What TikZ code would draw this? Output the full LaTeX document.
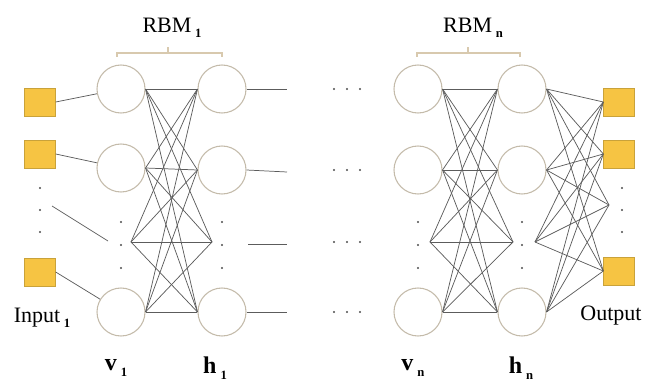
\documentclass[tikz,border=0pt]{standalone}
\usepackage{fontspec}
\setmainfont{Liberation Serif}
\usetikzlibrary{positioning}
\definecolor{RBMGold}{HTML}{F6C443}
\definecolor{RBMGoldEdge}{HTML}{C9A23A}
\definecolor{RBMRing}{HTML}{C4BBAA}
\definecolor{RBMTan}{HTML}{D8C9AE}
\definecolor{RBMLine}{HTML}{5C5C5C}
\newcommand{\lowsub}[1]{\,\raisebox{-0.5ex}{\fontsize{9.5}{10}\selectfont\bfseries #1}}
\tikzset{
  rbmunit/.style={circle,draw=RBMRing,line width=0.8pt,fill=white,
    minimum size=36pt,inner sep=0pt},
  rbmsq/.style={rectangle,draw=RBMGoldEdge,fill=RBMGold,line width=0.5pt,
    minimum width=23pt,minimum height=21pt,inner sep=0pt},
  rbmlink/.style={draw=RBMLine,line width=0.55pt},
  rbmbrace/.style={draw=RBMTan,line width=0.8pt},
  rbmtext/.style={font=\fontsize{16.5}{18}\selectfont,inner sep=0pt},
  rbmlayer/.style={font=\fontsize{18}{20}\selectfont\bfseries,inner sep=0pt},
}

\begin{document}
\begin{tikzpicture}[x=0.75pt,y=-0.75pt]
  \useasboundingbox (0,0) rectangle (649,381);

  % inputs
  \node[rbmsq] (in1) at (40,102) {};
  \node[rbmsq] (in2) at (40,154) {};
  \coordinate (inm) at (52,206);
  \node[rbmsq] (in3) at (40,272) {};
  \node[rbmtext] (inlab) at (42,318) {Input\lowsub{1}};

  % first RBM
  \node[rbmunit] (v1a) at (121,89) {};
  \node[rbmunit] (v1b) at (121,168) {};
  \coordinate (v1in) at (108,241);
  \coordinate (v1m) at (131,242);
  \node[rbmunit] (v1c) at (121,312) {};
  \node[rbmunit] (h1a) at (222,89) {};
  \node[rbmunit] (h1b) at (222,170) {};
  \coordinate (h1m) at (212,242);
  \coordinate (h1mo) at (248,244);
  \node[rbmunit] (h1c) at (222,312) {};
  \coordinate (h1ao) at (287,89);
  \coordinate (h1bo) at (287,172);
  \coordinate (h1mout) at (287,244);
  \coordinate (h1co) at (287,312);

  % last RBM
  \node[rbmunit] (vna) at (418,89) {};
  \node[rbmunit] (vnb) at (418,170) {};
  \coordinate (vnm) at (430,242);
  \node[rbmunit] (vnc) at (418,312) {};
  \node[rbmunit] (hna) at (522,89) {};
  \node[rbmunit] (hnb) at (522,170) {};
  \coordinate (hnm) at (513,242);
  \coordinate (hnmo) at (535,242);
  \node[rbmunit] (hnc) at (522,312) {};

  % outputs
  \node[rbmsq] (out1) at (619,102) {};
  \node[rbmsq] (out2) at (619,154) {};
  \coordinate (outm) at (609,205);
  \node[rbmsq] (out3) at (619,271) {};
  \node[rbmtext] (outlab) at (611,316) {Output};

  \draw[rbmlink] (in1.east) -- (v1a);
  \draw[rbmlink] (in2.east) -- (v1b);
  \draw[rbmlink] (inm) -- (v1in);
  \draw[rbmlink] (in3.east) -- (v1c);

  \foreach \a in {v1a.east,v1b.east,v1m,v1c.east}
    \foreach \b in {h1a.west,h1b.west,h1m,h1c.west}
      \draw[rbmlink] (\a) -- (\b);
  \foreach \a in {vna.east,vnb.east,vnm,vnc.east}
    \foreach \b in {hna.west,hnb.west,hnm,hnc.west}
      \draw[rbmlink] (\a) -- (\b);
  \foreach \a in {hna.east,hnb.east,hnmo,hnc.east}
    \foreach \b in {out1.west,out2.west,outm,out3.west}
      \draw[rbmlink] (\a) -- (\b);

  \draw[rbmlink] (h1a.east) -- (h1ao);
  \draw[rbmlink] (h1b.east) -- (h1bo);
  \draw[rbmlink] (h1mo) -- (h1mout);
  \draw[rbmlink] (h1c.east) -- (h1co);

  % vertical dots
  \foreach \x in {40,622}
    \foreach \y in {188,210,232}
      \fill[black!70] (\x,\y) circle (1.1);
  \foreach \x in {121,222,418,522}
    \foreach \y in {222,245,268}
      \fill[black!70] (\x,\y) circle (1.1);
  % horizontal dots
  \foreach \y in {89,170,242,312}
    \foreach \x in {334,347,360}
      \fill[black!70] (\x,\y) circle (1.1);

  % braces and titles
  \draw[rbmbrace] (117,57) -- (117,53) -- (222,53) -- (222,57);
  \draw[rbmbrace] (168,53) -- (168,47);
  \draw[rbmbrace] (417,57) -- (417,53) -- (520,53) -- (520,57);
  \draw[rbmbrace] (468,53) -- (468,47);
  \node[rbmtext] (rbm1) at (172,28) {RBM\lowsub{1}};
  \node[rbmtext] (rbmn) at (473,28) {RBM\lowsub{n}};

  \node[rbmlayer] (vlab1) at (116,368) {v\lowsub{1}};
  \node[rbmlayer] (hlab1) at (215,368) {h\lowsub{1}};
  \node[rbmlayer] (vlabn) at (413,368) {v\lowsub{n}};
  \node[rbmlayer] (hlabn) at (521,368) {h\lowsub{n}};
\end{tikzpicture}
\end{document}
